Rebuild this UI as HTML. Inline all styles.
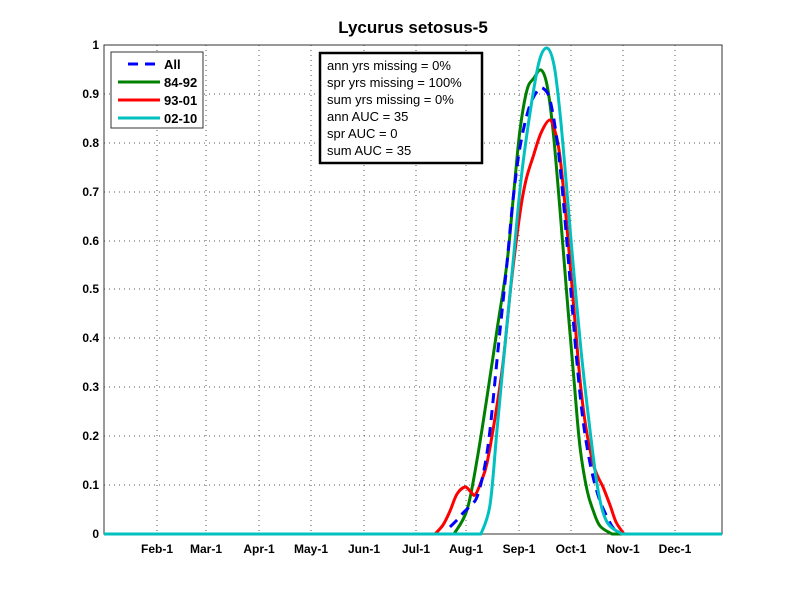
<!DOCTYPE html>
<html><head><style>body{margin:0;background:#fff}svg{display:block}text{font-family:"Liberation Sans",Arial,sans-serif}</style></head><body>
<svg id="s" width="800" height="600" xmlns="http://www.w3.org/2000/svg">
<rect width="800" height="600" fill="#fff"/>
<text x="413" y="33" font-size="17" font-weight="bold" text-anchor="middle">Lycurus setosus-5</text>
<g stroke="#555" stroke-width="1" stroke-dasharray="1,4">
<line x1="157" y1="45" x2="157" y2="534"/><line x1="206" y1="45" x2="206" y2="534"/><line x1="259" y1="45" x2="259" y2="534"/><line x1="311" y1="45" x2="311" y2="534"/><line x1="364" y1="45" x2="364" y2="534"/><line x1="416" y1="45" x2="416" y2="534"/><line x1="466" y1="45" x2="466" y2="534"/><line x1="519" y1="45" x2="519" y2="534"/><line x1="571" y1="45" x2="571" y2="534"/><line x1="623" y1="45" x2="623" y2="534"/><line x1="675" y1="45" x2="675" y2="534"/>
<line x1="104" y1="94" x2="722" y2="94"/><line x1="104" y1="143" x2="722" y2="143"/><line x1="104" y1="192" x2="722" y2="192"/><line x1="104" y1="241" x2="722" y2="241"/><line x1="104" y1="289" x2="722" y2="289"/><line x1="104" y1="338" x2="722" y2="338"/><line x1="104" y1="387" x2="722" y2="387"/><line x1="104" y1="436" x2="722" y2="436"/><line x1="104" y1="485" x2="722" y2="485"/>
</g>
<rect x="104" y="45" width="618" height="489" fill="none" stroke="#333" stroke-width="1"/>
<g font-size="12" font-weight="bold" text-anchor="end">
<text x="99" y="538">0</text><text x="99" y="489">0.1</text><text x="99" y="440">0.2</text><text x="99" y="391">0.3</text><text x="99" y="342">0.4</text><text x="99" y="293">0.5</text><text x="99" y="245">0.6</text><text x="99" y="196">0.7</text><text x="99" y="147">0.8</text><text x="99" y="98">0.9</text><text x="99" y="49">1</text>
</g>
<g font-size="12" font-weight="bold" text-anchor="middle">
<text x="157" y="553">Feb-1</text><text x="206" y="553">Mar-1</text><text x="259" y="553">Apr-1</text><text x="311" y="553">May-1</text><text x="364" y="553">Jun-1</text><text x="416" y="553">Jul-1</text><text x="466" y="553">Aug-1</text><text x="519" y="553">Sep-1</text><text x="571" y="553">Oct-1</text><text x="623" y="553">Nov-1</text><text x="675" y="553">Dec-1</text>
</g>
<g fill="none" stroke-width="3" stroke-linejoin="round">
<path id="g" stroke="#008000"/>
<path id="r" stroke="#ff0000"/>
<path id="b" stroke="#0000ff" stroke-dasharray="10,7"/>
<path id="c" stroke="#00c0c0"/>
</g>
<rect x="111" y="52" width="92" height="76" fill="#fff" stroke="#333" stroke-width="1"/>
<g stroke-width="3">
<line x1="128" y1="64" x2="160" y2="64" stroke="#0000ff" stroke-dasharray="10,7"/>
<line x1="118" y1="82" x2="160" y2="82" stroke="#008000"/>
<line x1="118" y1="100" x2="160" y2="100" stroke="#ff0000"/>
<line x1="118" y1="118" x2="160" y2="118" stroke="#00c0c0"/>
</g>
<g font-size="13" font-weight="bold">
<text x="164" y="69">All</text><text x="164" y="87">84-92</text><text x="164" y="105">93-01</text><text x="164" y="123">02-10</text>
</g>
<rect x="320" y="53" width="162" height="110" fill="#fff" stroke="#000" stroke-width="2.5"/>
<g font-size="13">
<text x="327" y="70">ann yrs missing = 0%</text>
<text x="327" y="87">spr yrs missing = 100%</text>
<text x="327" y="104">sum yrs missing = 0%</text>
<text x="327" y="121">ann AUC = 35</text>
<text x="327" y="138">spr AUC = 0</text>
<text x="327" y="155">sum AUC = 35</text>
</g>
</svg>
<script>
function cr(p){var d="M"+p[0][0]+","+p[0][1];for(var i=0;i<p.length-1;i++){var p0=p[Math.max(0,i-1)],p1=p[i],p2=p[i+1],p3=p[Math.min(p.length-1,i+2)];var c1x=p1[0]+(p2[0]-p0[0])/6,c1y=p1[1]+(p2[1]-p0[1])/6,c2x=p2[0]-(p3[0]-p1[0])/6,c2y=p2[1]-(p3[1]-p1[1])/6;c1y=Math.min(c1y,534);c2y=Math.min(c2y,534);d+=" C"+c1x.toFixed(1)+","+c1y.toFixed(1)+" "+c2x.toFixed(1)+","+c2y.toFixed(1)+" "+p2[0]+","+p2[1];}return d;}
function hump(a,pts,b){var s=cr(pts);return (a!==null?"M104,534 L"+pts[0][0]+","+pts[0][1]+" ":"")+s.replace(/^M/,a!==null?"M":"M")+(b?" L722,534":"");}
function setd(id,d){document.getElementById(id).setAttribute("d",d);}
var Z=534;
setd("c","M104,534 L481,534 "+cr([[481,Z],[490,505],[497,430],[505,345],[513,263],[521,180],[530,113],[539,62],[547,48],[554,65],[560,113],[566,180],[573,263],[581,350],[590,430],[598,490],[607,522],[622,Z]]).replace(/^M[^ ]+/,"")+" L722,534");
setd("g","M104,534 L454,534 "+cr([[454,Z],[467,510],[477,460],[487,397],[497,330],[507,263],[514,190],[520,130],[527,90],[534,78],[541,70],[547,85],[553,130],[560,210],[567,297],[574,380],[580,447],[587,490],[593,510],[600,526],[612,Z]]).replace(/^M[^ ]+/,"")+" L722,534");
setd("r","M104,534 L435,534 "+cr([[435,Z],[443,525],[450,511],[457,494],[465,487],[470,491],[475,495],[481,482],[487,463],[495,418],[503,363],[511,285],[520,213],[526,180],[533,157],[541,133],[550,120],[556,135],[560,157],[565,205],[570,263],[575,322],[580,380],[586,428],[593,463],[598,477],[603,487],[610,505],[616,522],[624,Z]]).replace(/^M[^ ]+/,"")+" L722,534");
setd("b",cr([[450,527],[457,520],[463,513],[470,506],[477,497],[484,470],[490,430],[498,350],[507,263],[513,200],[520,147],[529,108],[538,90],[544,89],[550,100],[557,140],[563,197],[570,280],[577,363],[583,420],[590,463],[598,495],[607,517],[614,529],[620,Z]]));
</script>
</body></html>
